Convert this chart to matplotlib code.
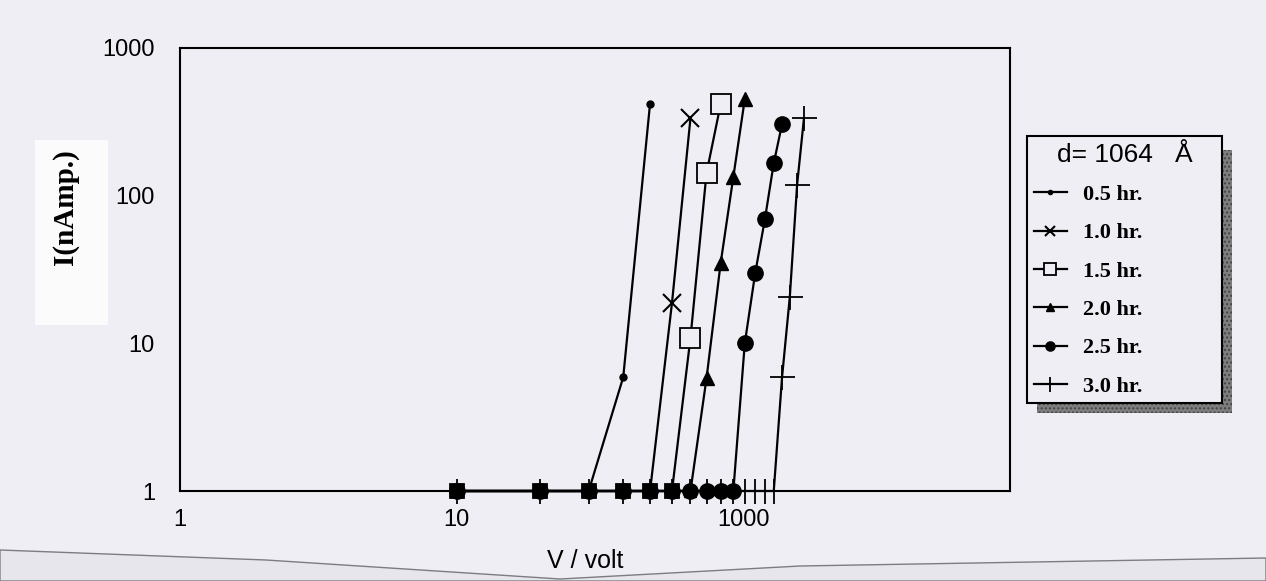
import matplotlib
matplotlib.use("Agg")
import matplotlib.pyplot as plt
from matplotlib.patches import Rectangle, Polygon
from matplotlib.font_manager import FontProperties
from matplotlib.transforms import ScaledTranslation

# Data (d = 1064 A, different annealing times)
V_05 = [10, 20, 30, 40, 50]
I_05 = [1, 1, 1, 5.9, 420]

V_10 = [10, 20, 30, 40, 50, 60, 70]
I_10 = [1, 1, 1, 1, 1, 18.7, 335]

V_15 = [10, 20, 30, 40, 50, 60, 70, 80, 90]
I_15 = [1, 1, 1, 1, 1, 1, 10.9, 142, 417]

V_20 = [10, 20, 30, 40, 50, 60, 70, 80, 90, 100, 110]
I_20 = [1, 1, 1, 1, 1, 1, 1, 5.8, 35, 134, 450]

V_25 = [10, 20, 30, 40, 50, 60, 70, 80, 90, 100, 110, 120, 130, 140, 150]
I_25 = [1, 1, 1, 1, 1, 1, 1, 1, 1, 1, 10, 30, 69, 166, 305]

V_30 = [10, 20, 30, 40, 50, 60, 70, 80, 90, 100, 110, 120, 130, 140,
        150, 160, 170, 180]
I_30 = [1, 1, 1, 1, 1, 1, 1, 1, 1, 1, 1, 1, 1, 1, 5.9, 20.6, 118, 335]

labels = ["0.5 hr.", "1.0 hr.", "1.5 hr.", "2.0 hr.", "2.5 hr.", "3.0 hr."]
x_ticks = [1, 10, 100]
x_tick_labels = ["1", "10", "1000"]
y_ticks = [1, 10, 100, 1000]
y_tick_labels = ["1", "10", "100", "1000"]

PAPER = "#efeef4"
W, H = 1266, 581


def fx(px):
    return px / W


def fy(py):
    return 1 - py / H


fig = plt.figure(figsize=(W / 100, H / 100), dpi=100, facecolor=PAPER)

# scanned paper edge at the bottom
fig.add_artist(Polygon([(fx(0), fy(550)), (fx(266), fy(560)), (fx(560), fy(579)),
                        (fx(800), fy(566)), (fx(W), fy(558)), (fx(W), 0), (0, 0)],
                       closed=True, transform=fig.transFigure,
                       facecolor="#e6e6ec", edgecolor="#7c7c84", linewidth=1.0, zorder=0))

ax = fig.add_axes([fx(180), fy(491), (1010 - 180) / W, (491 - 48) / H])
ax.set_facecolor(PAPER)
ax.set_xscale("log")
ax.set_yscale("log")
ax.set_xlim(1, 1000)
ax.set_ylim(1, 1000)

# (V, I, marker, size, filled, edge width, size factor for points lying on I = 1)
series = [
    (V_05, I_05, "o", 5, True, 1.0, 1.0),
    (V_10, I_10, "x", 13, True, 1.5, 0.7),
    (V_15, I_15, "s", 14, False, 1.3, 0.7),
    (V_20, I_20, "^", 10, True, 1.0, 0.9),
    (V_25, I_25, "o", 11, True, 1.0, 1.0),
    (V_30, I_30, "+", 18, True, 1.3, 1.0),
]

handles = []
for V, I, mk, ms, filled, mew, base_f in series:
    fc = "black" if filled else PAPER
    rising = [k for k, v in enumerate(I) if v > 1]
    h, = ax.plot(V, I, color="black", linewidth=1.6, marker=mk, markersize=ms,
                 markerfacecolor=fc, markeredgewidth=mew, markevery=rising,
                 clip_on=False, zorder=3)
    handles.append(h)
    base_v = [v for v, i in zip(V, I) if i <= 1]
    base_i = [i for i in I if i <= 1]
    ax.plot(base_v, base_i, linestyle="none", marker=mk, markersize=ms * base_f,
            markerfacecolor="black", markeredgecolor="black", markeredgewidth=mew,
            clip_on=False, zorder=3)

for sp in ax.spines.values():
    sp.set_linewidth(1.5)

tick_font = FontProperties(family="Liberation Sans", size=17)
ax.minorticks_off()
ax.set_xticks(x_ticks)
ax.set_xticklabels(x_tick_labels, fontproperties=tick_font)
ax.set_yticks(y_ticks)
ax.set_yticklabels(y_tick_labels, fontproperties=tick_font)
ax.tick_params(axis="both", length=0)
ax.tick_params(axis="y", pad=18)
ax.tick_params(axis="x", pad=13)
# the scanned "1000" label sits a little right of its tick
lab = ax.get_xticklabels()[2]
lab.set_transform(lab.get_transform() + ScaledTranslation(10 / 100, 0, fig.dpi_scale_trans))

ax.set_xlabel("V / volt", fontproperties=FontProperties(family="Liberation Sans", size=18),
              labelpad=14)
ax.xaxis.set_label_coords((585 - 180) / 830, -0.13)

# y label on its white paper patch
fig.add_artist(Rectangle((fx(35), fy(325)), 73 / W, 185 / H, transform=fig.transFigure,
                         facecolor="#fbfbfc", edgecolor="none", zorder=1))
fig.text(fx(66), fy(207), "I(nAmp.)", rotation=90, ha="center", va="center",
         fontproperties=FontProperties(family="Liberation Serif", weight="bold", size=21))

# legend shadow
fig.add_artist(Rectangle((fx(1037), fy(413)), 195 / W, 263 / H, transform=fig.transFigure,
                         facecolor="#7e7e7e", edgecolor="#444444", hatch="....",
                         linewidth=0, zorder=1))

leg = fig.legend(handles, labels, loc="upper left",
                 bbox_to_anchor=(fx(1027), fy(136), 195 / W, 0.0),
                 mode="expand", frameon=True, fancybox=False, framealpha=1,
                 facecolor=PAPER, edgecolor="black",
                 title="d= 1064   Å",
                 title_fontproperties=FontProperties(family="Liberation Sans", size=19),
                 prop=FontProperties(family="Liberation Serif", weight="bold", size=16),
                 markerscale=0.6, handlelength=1.5, handletextpad=0.7,
                 labelspacing=0.8, borderpad=0.3, borderaxespad=0)
leg.get_frame().set_linewidth(1.5)
leg.set_zorder(5)

fig.savefig("out.png", dpi=100, facecolor=PAPER)
